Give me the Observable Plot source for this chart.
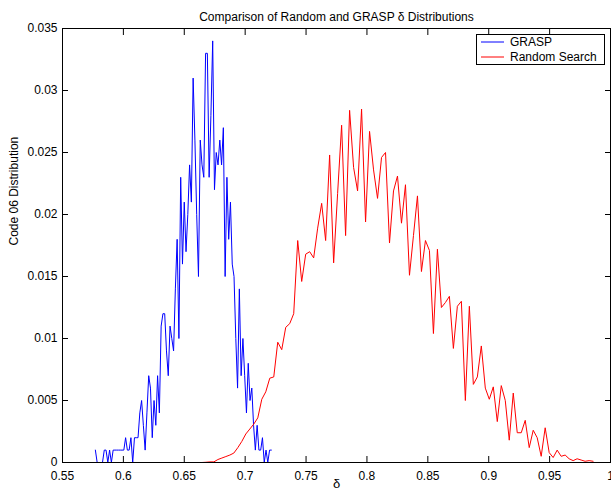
<!DOCTYPE html>
<html>
<head>
<meta charset="utf-8">
<script src="https://cdn.jsdelivr.net/npm/d3@7"></script>
<script src="https://cdn.jsdelivr.net/npm/@observablehq/plot@0.6"></script>
<style>
html, body { margin: 0; padding: 0; background: #fff; }
#wrap { position: relative; width: 611px; height: 493px; overflow: hidden; font-family: "Liberation Sans", Arial, Helvetica, sans-serif; }
#wrap svg.plot { display: block; }
#legend { position: absolute; left: 476px; top: 34px; width: 129px; height: 31px; box-sizing: border-box; border: 1px solid #000; background: #fff; }
</style>
</head>
<body>
<div id="wrap"></div>
<script>
// ---- text ----
const title = "Comparison of Random and GRASP δ Distributions";
const xLabel = "δ";
const yLabel = "Code 06 Distribution";
const seriesNames = ["GRASP", "Random Search"];
const seriesColors = ["blue", "red"];

// ---- ticks ----
const xTicks = [0.55, 0.6, 0.65, 0.7, 0.75, 0.8, 0.85, 0.9, 0.95, 1];
const xTickLabels = ["0.55", "0.6", "0.65", "0.7", "0.75", "0.8", "0.85", "0.9", "0.95", "1"];
const yTicks = [0, 0.005, 0.01, 0.015, 0.02, 0.025, 0.03, 0.035];
const yTickLabels = ["0", "0.005", "0.01", "0.015", "0.02", "0.025", "0.03", "0.035"];

// ---- GRASP: 100 equal-width bins from first to last bin centre ----
const graspFirst = 0.577;
const graspLast = 0.7215;
const graspValues = [
  0.001, 0, 0, 0, 0, 0.001, 0.001, 0, 0.001, 0,
  0.001, 0.001, 0.001, 0.001, 0.001, 0.001, 0.001, 0.002, 0.001, 0.001,
  0.002, 0, 0.002, 0.002, 0.002, 0.004, 0.005, 0.003, 0.001, 0.004,
  0.007, 0.006, 0.002, 0.005, 0.003, 0.007, 0.004, 0.011, 0.012, 0.012,
  0.009, 0.007, 0.011, 0.010, 0.009, 0.014, 0.018, 0.010, 0.023, 0.016,
  0.021, 0.017, 0.020, 0.024, 0.021, 0.031, 0.026, 0.020, 0.015, 0.026,
  0.024, 0.023, 0.033, 0.033, 0.023, 0.028, 0.034, 0.022, 0.025, 0.024,
  0.026, 0.024, 0.027, 0.015, 0.023, 0.018, 0.021, 0.016, 0.015, 0.010,
  0.006, 0.014, 0.007, 0.010, 0.007, 0.004, 0.008, 0.005, 0.006, 0.003,
  0.001, 0.003, 0.001, 0.001, 0.002, 0, 0.001, 0, 0.001, 0.001
];

// ---- Random Search: 100 equal-width bins ----
const randomFirst = 0.6612;
const randomLast = 0.9857;
const randomValues = [
  0, 0, 0.00002, 0.00005, 0.00005, 0.00024, 0.00036, 0.00048, 0.0006, 0.00076,
  0.0012, 0.0017, 0.0023, 0.0027, 0.0031, 0.0036, 0.0051, 0.0057, 0.0068, 0.0069,
  0.0097, 0.0091, 0.0109, 0.0112, 0.0120, 0.0179, 0.0146, 0.0168, 0.0170, 0.0165,
  0.0189, 0.0209, 0.0179, 0.0248, 0.0161, 0.0217, 0.0272, 0.0183, 0.0284, 0.0238,
  0.0219, 0.0285, 0.0194, 0.0267, 0.0236, 0.0213, 0.0246, 0.0250, 0.0177, 0.0219,
  0.0231, 0.0193, 0.0224, 0.0151, 0.0183, 0.0215, 0.0154, 0.0179, 0.0171, 0.0104,
  0.0172, 0.0125, 0.0129, 0.0134, 0.0092, 0.0126, 0.0130, 0.0050, 0.0126, 0.0063,
  0.0069, 0.0094, 0.0060, 0.0051, 0.0061, 0.0033, 0.0062, 0.0050, 0.0018, 0.0056,
  0.0024, 0.0024, 0.0034, 0.0012, 0.0026, 0.0020, 0.0005, 0.0028, 0.0008, 0.0004,
  0.0010, 0.0005, 0.0006, 0.0003, 0.00015, 0.0003, 0.0002, 0.0001, 0.00015, 0.0001
];

function binTable(first, last, values, name) {
  const n = values.length;
  return values.map((v, i) => ({ x: first + (last - first) * i / (n - 1), y: v, series: name }));
}
const grasp = binTable(graspFirst, graspLast, graspValues, seriesNames[0]);
const random = binTable(randomFirst, randomLast, randomValues, seriesNames[1]);

const xFmt = d => xTickLabels[xTicks.indexOf(d)];
const yFmt = d => yTickLabels[yTicks.indexOf(d)];
const noLabel = () => "";

const chart = Plot.plot({
  width: 611,
  height: 493,
  marginLeft: 62,
  marginRight: 1,
  marginTop: 28,
  marginBottom: 31,
  style: { fontFamily: "'Liberation Sans', Arial, Helvetica, sans-serif", fontSize: "12px", background: "white", color: "black", overflow: "visible" },
  x: { domain: [0.55, 1] },
  y: { domain: [0, 0.035] },
  marks: [
    Plot.line(grasp, { x: "x", y: "y", stroke: seriesColors[0], strokeWidth: 1 }),
    Plot.line(random, { x: "x", y: "y", stroke: seriesColors[1], strokeWidth: 1 }),
    Plot.frame({ stroke: "black", strokeWidth: 1 }),
    Plot.axisX({ anchor: "bottom", ticks: xTicks, tickFormat: xFmt, tickSize: -6, tickPadding: 15, label: null, stroke: "black" }),
    Plot.axisX({ anchor: "top", ticks: xTicks, tickFormat: noLabel, tickSize: -6, label: null, stroke: "black" }),
    Plot.axisY({ anchor: "left", ticks: yTicks, tickFormat: yFmt, tickSize: -6, tickPadding: 11, label: null, stroke: "black" }),
    Plot.axisY({ anchor: "right", ticks: yTicks, tickFormat: noLabel, tickSize: -6, label: null, stroke: "black" }),
    Plot.text([title], { frameAnchor: "top", dy: -16, text: d => d, fontSize: 12, fill: "black" }),
    Plot.text([xLabel], { frameAnchor: "bottom", dy: 25, text: d => d, fontSize: 13, fill: "black" }),
    Plot.text([yLabel], { frameAnchor: "left", dx: -48, rotate: -90, text: d => d, fontSize: 12, fill: "black" })
  ]
});
chart.classList.add("plot");
const wrap = document.getElementById("wrap");
wrap.appendChild(chart);

// legend box (MATLAB style)
const legend = document.createElement("div");
legend.id = "legend";
legend.innerHTML = `<svg width="127" height="29" style="display:block">
  <line x1="4" x2="27" y1="7" y2="7" stroke="${seriesColors[0]}" stroke-width="1"/>
  <text x="33" y="7" dy="0.35em" font-size="12" fill="black">${seriesNames[0]}</text>
  <line x1="4" x2="27" y1="22" y2="22" stroke="${seriesColors[1]}" stroke-width="1"/>
  <text x="33" y="22" dy="0.35em" font-size="12" fill="black">${seriesNames[1]}</text>
</svg>`;
wrap.appendChild(legend);
</script>
</body>
</html>
